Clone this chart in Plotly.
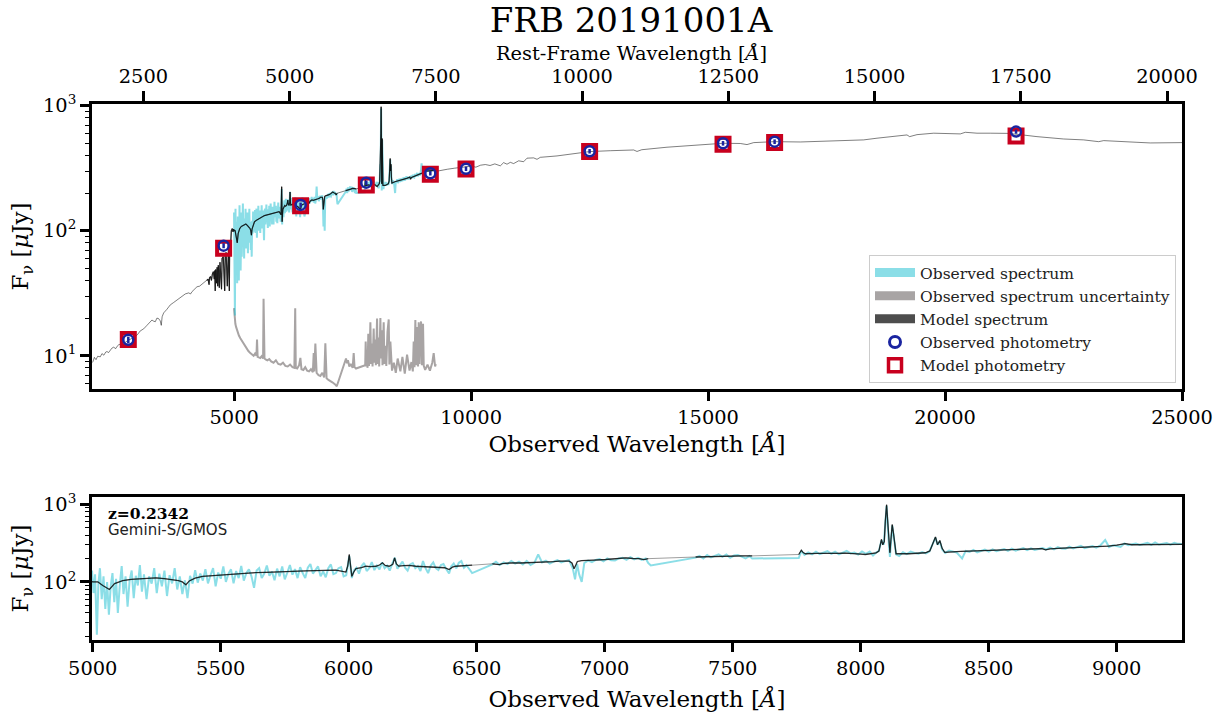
import plotly.graph_objects as go

# ---------------- data ----------------
z = 0.2342

phot_wave = [2766, 4777, 6402, 7788, 9139, 9892, 12500, 15315, 16404, 21498]
phot_obs = [13.4, 75.9, 160.6, 242, 288, 313, 432, 500, 515, 620]
phot_obs_err = [0.8, 3.5, 7, 10, 12, 13, 18, 21, 22, 24]
phot_model = [13.5, 72.2, 157.9, 232, 283, 312, 429, 491, 506, 572]

# model SED blue of the observed spectrum
sed_blue_wave = [2000, 2021, 2050, 2085, 2120, 2175, 2210, 2250, 2290, 2316,
                 2350, 2380, 2420, 2457, 2500, 2530, 2570, 2597, 2640, 2680,
                 2720, 2773, 2820, 2878, 2950, 3019, 3090, 3160, 3210, 3265,
                 3300, 3336, 3370, 3406, 3440, 3462, 3480, 3512, 3580, 3652,
                 3720, 3793, 3880, 3969, 4040, 4080, 4109, 4160, 4215, 4270,
                 4320, 4370, 4400]
sed_blue_flux = [8.8, 9.0, 9.7, 9.3, 9.9, 9.8, 10.4, 10.1, 10.7, 10.8,
                 10.6, 11.0, 11.5, 11.7, 11.4, 11.9, 12.3, 12.3, 12.1, 12.6,
                 13.0, 13.4, 13.6, 14.1, 14.6, 15.8, 16.4, 17.5, 18.4, 19.3,
                 18.9, 18.7, 20.0, 19.8, 19.0, 17.5, 20.5, 22.0, 23.5, 25.5,
                 26.6, 28.0, 29.5, 31.2, 31.8, 31.2, 32.5, 33.8, 35.6, 36.0,
                 37.5, 39.0, 40.0]

# model SED red of the observed spectrum
sed_red_wave = [9300, 9400, 9500, 9650, 9800, 9913, 10000, 10100, 10200, 10300,
                10400, 10500, 10616, 10686, 10757, 10827, 10897, 11003, 11108, 11179,
                11319, 11390, 11460, 11812, 12023, 12501, 12937, 13430, 13500, 13600,
                14133, 14977, 15315, 15680, 15821, 15962, 16398, 16947, 17650, 18001,
                18282, 18564, 18845, 19197, 19253, 19408, 19760, 20111, 20322, 20428,
                20674, 20955, 21307, 21518, 21940, 22503, 22925, 23241, 23347, 24050,
                24332, 25000]
sed_red_flux = [300, 306, 310, 316, 321, 325, 328, 322, 334, 338,
                332, 342, 330, 350, 340, 352, 344, 362, 356, 380,
                382, 372, 386, 396, 405, 429, 436, 442, 430, 444,
                465, 485, 500, 498, 488, 506, 515, 512, 520, 522,
                532, 549, 565, 583, 565, 586, 602, 602, 594, 612,
                602, 602, 600, 590, 565, 541, 532, 515, 525, 509,
                503, 506]

# model spectrum sampled where the spectrum exists (None = chip gap)
mod_wave = [4420, 4450, 4470, 4480, 4500, 4520, 4540, 4560, 4580, 4590,
            4600, 4610, 4628, 4640, 4653, 4665, 4687, 4700, 4733, 4745,
            4770, 4800, 4812, 4830, 4855, 4865, 4880, 4898, 4905, 4925,
            4940, 4960, 4975, 4990, 5000, 5020, 5039, 5065, 5085, 5117,
            5150, 5182, 5215, 5247, 5280, 5312, 5335, 5350, 5364, 5377,
            5400, 5429, 5470, 5508, 5540, 5573, 5605, 5638, 5677, 5716,
            5755, 5794, 5833, 5872, 5910, 5950, 5989, 5996, 6002, 6007,
            6012, 6020, 6028, 6050, 6067, 6085, 6106, 6120, 6132, 6142,
            6158, 6172, 6179, 6186, 6195, 6215, 6236, 6262, 6288, 6320,
            6353, 6375, 6392, 6405, 6418, 6445, 6470, 6482, None, 6561,
            6575, 6588, 6600, 6620, 6640, 6670, 6705, 6740, 6770, 6800,
            6822, 6861, 6872, 6880, 6887, 6893, 6910, 6926, 6960, 7004,
            7040, 7082, 7110, 7134, 7153, 7170, None, 7355, 7380, 7420,
            7460, 7498, 7540, 7576, None, 7758, 7763, 7768, 7775, 7784,
            7830, 7875, 7910, 7940, 7980, 8000, 8018, 8040, 8060, 8071,
            8077, 8081, 8086, 8092, 8096, 8101, 8106, 8110, 8114, 8118,
            8123, 8128, 8133, 8138, 8188, 8253, 8270, 8281, 8292, 8300,
            8309, 8318, 8328, 8390, 8448, 8510, 8578, 8640, 8708, 8722,
            8740, 8790, 8838, 8900, 8968, 9000, 9020, 9033, 9059, 9110,
            9163, 9210, 9255]
mod_flux = [40, 41, 37, 42, 43, 40, 45, 47, 41, 48,
            33, 49, 38, 51, 36, 53, 35, 56, 34, 60,
            62, 33, 65, 67, 36, 70, 72, 33, 74, 76,
            100, 104, 98, 103, 100, 100, 90, 80, 95, 104,
            108, 110, 112, 113, 110, 107, 104, 100, 92, 103,
            112, 118, 121, 124, 126, 129, 130, 132, 133, 135,
            136, 137, 139, 140, 141, 142, 134, 160, 225, 170,
            118, 135, 148, 153, 159, 157, 159, 165, 176, 163,
            159, 168, 204, 170, 160, 162, 163, 159, 157, 158,
            155, 152, 144, 155, 159, 162, 163, 164, None, 171,
            169, 167, 172, 174, 176, 175, 176, 178, 180, 182,
            185, 185, 175, 148, 165, 183, 188, 190, 191, 194,
            198, 204, 200, 199, 193, 199, None, 209, 210, 214,
            215, 218, 216, 216, None, 225, 240, 255, 238, 230,
            232, 230, 233, 234, 232, 228, 225, 232, 236, 249,
            300, 352, 300, 330, 600, 980, 560, 304, 237, 350,
            545, 420, 280, 230, 230, 237, 250, 304, 378, 300,
            340, 270, 240, 246, 249, 252, 256, 262, 268, 258,
            266, 272, 275, 282, 289, 296, 306, 310, 300, 302,
            304, 303, 304]

# observed Gemini-S/GMOS spectrum
obs_wave = [4997, 5003, 5009, 5016, 5022, 5028, 5035, 5042, 5049, 5056,
            5063, 5070, 5077, 5084, 5091, 5098, 5106, 5113, 5120, 5128,
            5136, 5144, 5152, 5160, 5168, 5176, 5184, 5192, 5200, 5210,
            5220, 5230, 5240, 5250, 5260, 5270, 5280, 5290, 5300, 5310,
            5320, 5330, 5340, 5350, 5360, 5370, 5380, 5390, 5400, 5410,
            5420, 5430, 5440, 5450, 5460, 5470, 5480, 5490, 5500, 5510,
            5520, 5530, 5540, 5550, 5560, 5570, 5580, 5590, 5600, 5610,
            5620, 5630, 5640, 5650, 5660, 5670, 5680, 5690, 5700, 5710,
            5720, 5730, 5740, 5750, 5760, 5770, 5780, 5790, 5800, 5810,
            5820, 5830, 5840, 5850, 5860, 5870, 5880, 5890, 5900, 5910,
            5920, 5930, 5940, 5950, 5960, 5970, 5980, 5990, 6002, 6012,
            6020, 6030, 6040, 6050, 6060, 6070, 6080, 6090, 6100, 6110,
            6120, 6130, 6140, 6150, 6160, 6170, 6180, 6190, 6200, 6210,
            6220, 6230, 6240, 6250, 6260, 6270, 6280, 6290, 6300, 6310,
            6320, 6330, 6340, 6350, 6360, 6370, 6380, 6392, 6400, 6410,
            6420, 6430, 6440, 6450, 6460, 6470, 6482, 6561, 6575, 6590,
            6605, 6620, 6635, 6650, 6665, 6680, 6695, 6710, 6725, 6740,
            6755, 6770, 6785, 6800, 6815, 6830, 6845, 6860, 6875, 6884,
            6892, 6900, 6910, 6920, 6935, 6950, 6965, 6980, 6995, 7010,
            7025, 7040, 7055, 7070, 7085, 7100, 7115, 7130, 7145, 7160,
            7170, 7180, 7355, 7370, 7385, 7400, 7415, 7430, 7445, 7460,
            7475, 7490, 7505, 7520, 7535, 7550, 7565, 7576, 7758, 7768,
            7780, 7795, 7810, 7825, 7840, 7855, 7870, 7885, 7900, 7915,
            7930, 7945, 7960, 7975, 7990, 8005, 8020, 8035, 8048, 8060,
            8071, 8081, 8090, 8101, 8110, 8114, 8123, 8130, 8138, 8150,
            8165, 8180, 8195, 8210, 8225, 8240, 8255, 8268, 8281, 8292,
            8300, 8309, 8318, 8330, 8345, 8360, 8375, 8396, 8410, 8425,
            8440, 8455, 8470, 8485, 8500, 8515, 8530, 8545, 8560, 8575,
            8590, 8605, 8620, 8635, 8650, 8665, 8680, 8695, 8710, 8725,
            8740, 8755, 8770, 8785, 8800, 8815, 8830, 8845, 8860, 8875,
            8890, 8905, 8920, 8935, 8955, 8970, 8985, 9000, 9015, 9030,
            9045, 9060, 9075, 9090, 9105, 9120, 9135, 9150, 9165, 9180,
            9195, 9210, 9225, 9240, 9255]
obs_flux = [140, 72, 125, 21, 95, 150, 60, 118, 45, 100,
            38, 88, 130, 55, 110, 40, 95, 160, 70, 118,
            48, 105, 140, 62, 120, 90, 165, 75, 125, 60,
            118, 95, 150, 72, 128, 88, 140, 66, 122, 96,
            150, 80, 118, 70, 105, 62, 120, 95, 142, 98,
            128, 104, 146, 96, 122, 150, 88, 132, 110, 158,
            100, 128, 145, 96, 138, 112, 160, 104, 130, 145,
            118, 84, 140, 150, 112, 128, 162, 120, 136, 105,
            148, 118, 158, 108, 132, 165, 124, 146, 112, 155,
            130, 112, 152, 170, 128, 140, 158, 118, 136, 115,
            150, 168, 126, 130, 150, 155, 118, 122, 215, 112,
            140, 152, 128, 160, 175, 138, 150, 180, 142, 162,
            145, 178, 150, 162, 140, 172, 205, 148, 166, 182,
            152, 140, 168, 175, 150, 160, 138, 185, 150, 130,
            162, 178, 150, 142, 165, 170, 148, 128, 158, 172,
            150, 176, 185, 152, 164, 148, 130, 168, 182, 165,
            178, 170, 186, 172, 182, 168, 186, 165, 176, 225,
            178, 188, 172, 182, 190, 178, 185, 192, 150, 108,
            170, 125, 100, 175, 188, 180, 192, 196, 184, 200,
            190, 188, 200, 204, 192, 208, 195, 204, 192, 200,
            175, 163, 205, 216, 200, 222, 206, 214, 226, 210,
            225, 204, 218, 222, 212, 200, 215, 200, 203, 250,
            222, 240, 226, 245, 228, 236, 248, 230, 244, 226,
            240, 250, 232, 238, 225, 246, 230, 245, 218, 238,
            250, 340, 300, 950, 300, 210, 530, 380, 226, 215,
            240, 228, 245, 236, 230, 242, 232, 245, 300, 370,
            300, 330, 260, 236, 252, 244, 238, 200, 250, 242,
            258, 240, 250, 260, 245, 262, 248, 255, 265, 250,
            268, 252, 262, 272, 256, 270, 258, 264, 272, 262,
            276, 262, 280, 268, 266, 284, 270, 280, 290, 272,
            282, 288, 276, 292, 345, 280, 296, 288, 282, 312,
            296, 305, 312, 298, 310, 318, 300, 322, 302, 312,
            316, 300, 318, 308, 306]

# observed spectrum uncertainty
unc_wave = [4997, 5005, 5015, 5025, 5040, 5060, 5080, 5100, 5130, 5160,
            5200, 5240, 5270, 5300, 5340, 5380, 5410, 5440, 5470, 5482,
            5495, 5520, 5550, 5580, 5610, 5620, 5625, 5640, 5670, 5700,
            5740, 5780, 5830, 5880, 5930, 5980, 6030, 6080, 6130, 6180,
            6230, 6270, 6288, 6292, 6300, 6330, 6370, 6397, 6420, 6460,
            6500, 6540, 6580, 6620, 6660, 6678, 6690, 6713, 6740, 6780,
            6819, 6860, 6900, 6924, 6950, 6990, 7030, 7080, 7130, 7165,
            7360, 7381, 7400, 7430, 7460, 7500, 7522, 7540, 7570, 7765,
            7775, 7790, 7800, 7815, 7830, 7845, 7860, 7874, 7890, 7905,
            7920, 7944, 7960, 7975, 7990, 8015, 8030, 8045, 8060, 8085,
            8100, 8115, 8130, 8155, 8170, 8190, 8210, 8235, 8261, 8275,
            8296, 8330, 8370, 8410, 8450, 8507, 8550, 8600, 8648, 8700,
            8740, 8770, 8788, 8805, 8823, 8840, 8860, 8880, 8894, 8910,
            8925, 8943, 8960, 8975, 8985, 9000, 9030, 9080, 9130, 9180,
            9210, 9240, 9255]
unc_flux = [24, 21, 19, 18, 17, 16, 15.2, 14.5, 13.8, 13.2,
            12.6, 11.8, 11.2, 10.9, 10.5, 10.2, 10.0, 10.4, 10.0, 13.5,
            9.8, 9.7, 9.6, 9.9, 9.5, 28.5, 12, 9.5, 9.3, 9.2,
            9.4, 9.0, 8.8, 9.2, 8.6, 8.5, 8.8, 8.3, 8.2, 8.5,
            8.1, 8.0, 24, 9, 8.0, 7.9, 8.4, 9.6, 7.8, 7.7,
            8.1, 7.6, 7.5, 7.8, 7.4, 10.5, 7.5, 12.5, 7.3, 7.0,
            6.9, 7.3, 6.7, 12.6, 6.6, 6.4, 6.3, 6.1, 5.9, 5.7,
            9.5, 8.7, 9.2, 8.2, 8.6, 8.0, 10.5, 8.1, 7.9, 8.4,
            13, 8.2, 10.5, 8.0, 15, 8.3, 11, 18.5, 8.6, 12.5,
            8.2, 16.5, 8.8, 13.5, 8.4, 19.8, 8.6, 14, 8.2, 20,
            9.5, 16, 8.4, 18.5, 8.6, 12, 8.3, 15.5, 19.5, 8.5,
            13, 7.6, 8.8, 7.3, 9.5, 7.5, 9.8, 7.2, 10.2, 7.6,
            8.9, 7.5, 13, 8.1, 19.3, 8.4, 17, 8.2, 18.5, 8.6,
            15, 18.8, 8.4, 14.5, 18, 8.3, 7.7, 8.5, 7.6, 8.8,
            10.5, 8.2, 8.6]

y_tick_vals = [10, 100, 1000]
y_tick_text = ["10<sup>1</sup>", "10<sup>2</sup>", "10<sup>3</sup>"]

# ---------------- styling ----------------
SERIF = "DejaVu Serif"
CYAN = "rgba(23,190,207,0.5)"
UNC = "#a8a4a4"
SEDC = "rgba(0,0,0,0.5)"
MODC = "rgba(0,0,0,0.72)"
NAVY = "#1a24a0"
RED = "#c8001e"

# full model line: blue SED + model at spectral pixels + red SED
gray_wave = sed_blue_wave + [w for w, f in zip(mod_wave, mod_flux) if f is not None] + sed_red_wave
gray_flux = sed_blue_flux + [f for f in mod_flux if f is not None] + sed_red_flux

fig = go.Figure()

# legend entries (in reference order)
fig.add_trace(go.Scatter(x=[None], y=[None], mode="lines", name="Observed spectrum",
                         line=dict(color="#8bdee7", width=9)))
fig.add_trace(go.Scatter(x=[None], y=[None], mode="lines", name="Observed spectrum uncertainty",
                         line=dict(color=UNC, width=9)))
fig.add_trace(go.Scatter(x=[None], y=[None], mode="lines", name="Model spectrum",
                         line=dict(color="#4d4d4d", width=9)))
fig.add_trace(go.Scatter(x=[None], y=[None], mode="markers", name="Observed photometry",
                         marker=dict(symbol="circle-open", size=11, color=NAVY,
                                     line=dict(width=3, color=NAVY))))
fig.add_trace(go.Scatter(x=[None], y=[None], mode="markers", name="Model photometry",
                         marker=dict(symbol="square-open", size=13, color=RED,
                                     line=dict(width=3.5, color=RED))))

# top panel
fig.add_trace(go.Scatter(x=unc_wave, y=unc_flux, mode="lines", showlegend=False,
                         line=dict(color=UNC, width=2), hoverinfo="skip"))
fig.add_trace(go.Scatter(x=obs_wave, y=obs_flux, mode="lines", showlegend=False,
                         line=dict(color=CYAN, width=2), hoverinfo="skip"))
fig.add_trace(go.Scatter(x=gray_wave, y=gray_flux, mode="lines", showlegend=False,
                         line=dict(color=SEDC, width=1), hoverinfo="skip"))
fig.add_trace(go.Scatter(x=mod_wave, y=mod_flux, mode="lines", showlegend=False,
                         connectgaps=False, line=dict(color=MODC, width=1.2), hoverinfo="skip"))
fig.add_trace(go.Scatter(x=phot_wave, y=phot_model, mode="markers", showlegend=False,
                         marker=dict(symbol="square-open", size=13, color=RED,
                                     line=dict(width=4, color=RED))))
fig.add_trace(go.Scatter(x=phot_wave, y=phot_obs, mode="markers", showlegend=False,
                         error_y=dict(type="data", array=phot_obs_err, color=NAVY,
                                      thickness=2.5, width=0),
                         marker=dict(symbol="circle-open", size=10, color=NAVY,
                                     line=dict(width=2.5, color=NAVY))))
# invisible trace carrying the rest-frame axis
fig.add_trace(go.Scatter(x=[w / (1 + z) for w in phot_wave], y=phot_obs, xaxis="x2", yaxis="y",
                         mode="markers", marker=dict(opacity=0), showlegend=False,
                         hoverinfo="skip"))

# bottom panel
fig.add_trace(go.Scatter(x=obs_wave, y=obs_flux, xaxis="x3", yaxis="y3", mode="lines",
                         showlegend=False, line=dict(color=CYAN, width=2), hoverinfo="skip"))
fig.add_trace(go.Scatter(x=gray_wave, y=gray_flux, xaxis="x3", yaxis="y3", mode="lines",
                         showlegend=False, line=dict(color="rgba(0,0,0,0.38)", width=1),
                         hoverinfo="skip"))
fig.add_trace(go.Scatter(x=mod_wave, y=mod_flux, xaxis="x3", yaxis="y3", mode="lines",
                         connectgaps=False, showlegend=False,
                         line=dict(color=MODC, width=1.3), hoverinfo="skip"))

common = dict(showgrid=False, zeroline=False, showline=True, linewidth=2.5, linecolor="black",
              ticks="outside", tickwidth=2.5, tickcolor="black", automargin=False)
minor_top = [m * 10 ** e for e in (0, 1, 2) for m in range(2, 10)]
minor_bot = [m * 10 ** e for e in (1, 2) for m in range(2, 10)]

fig.update_layout(
    width=1220, height=713,
    margin=dict(l=92, r=38, t=104, b=73, autoexpand=False),
    paper_bgcolor="white", plot_bgcolor="white",
    font=dict(family=SERIF, size=19.4, color="black"),
    title=dict(text="FRB 20191001A", x=631 / 1220, xref="container", xanchor="center",
               y=1 - 20 / 713, yref="container", yanchor="middle",
               font=dict(family=SERIF, size=34, color="black")),
    legend=dict(x=0.9945, xanchor="right", y=0.4795, yanchor="bottom", itemwidth=40,
                bgcolor="white", bordercolor="#cccccc", borderwidth=1,
                font=dict(family=SERIF, size=15.5, color="#222222")),
    xaxis=dict(domain=[0, 1], anchor="y", range=[2000, 25000], tickmode="linear",
               tick0=0, dtick=5000, ticklen=9, mirror=True, tickformat="d",
               title=dict(text="Observed Wavelength [<i>Å</i>]", standoff=8), **common),
    xaxis2=dict(overlaying="x", side="top", anchor="y",
                range=[2000 / (1 + z), 25000 / (1 + z)], tickmode="linear", tick0=0,
                dtick=2500, ticklen=10, tickformat="d", **common),
    yaxis=dict(domain=[0.4683, 1], anchor="x", type="log", range=[0.734, 3.013],
               tickmode="array", tickvals=y_tick_vals, ticktext=y_tick_text, ticklen=9,
               mirror=True,
               minor=dict(tickmode="array", tickvals=minor_top, ticks="outside", ticklen=4,
                          tickwidth=1, tickcolor="black"),
               title=dict(text="F<sub>ν</sub> [<i>μ</i>Jy]", standoff=8), **common),
    xaxis3=dict(domain=[0, 1], anchor="y3", range=[4997, 9255], tickmode="linear",
                tick0=5000, dtick=500, ticklen=9, mirror=True, tickformat="d",
                title=dict(text="Observed Wavelength [<i>Å</i>]", standoff=12), **common),
    yaxis3=dict(domain=[0, 0.2668], anchor="x3", type="log", range=[1.255, 3.09],
                tickmode="array", tickvals=y_tick_vals, ticktext=y_tick_text, ticklen=9,
                mirror=True,
                minor=dict(tickmode="array", tickvals=minor_bot, ticks="outside", ticklen=4,
                           tickwidth=1, tickcolor="black"),
                title=dict(text="F<sub>ν</sub> [<i>μ</i>Jy]", standoff=8), **common),
    annotations=[
        dict(text="Rest-Frame Wavelength [<i>Å</i>]", xref="paper", yref="paper",
             x=(631 - 92) / 1090, y=(640 - 53) / 536, xanchor="center", yanchor="middle",
             showarrow=False, font=dict(family=SERIF, size=19.4, color="black")),
        dict(text="<b>z=0.2342</b>", xref="x3 domain", yref="y3 domain", x=0.0128, y=0.885,
             xanchor="left", yanchor="middle", showarrow=False,
             font=dict(family=SERIF, size=15.5, color="black")),
        dict(text="Gemini-S/GMOS", xref="x3 domain", yref="y3 domain", x=0.0128, y=0.772,
             xanchor="left", yanchor="middle", showarrow=False,
             font=dict(family="DejaVu Sans", size=15, color="#222222")),
    ],
)

fig.write_html("out.html", config={"displayModeBar": False},
               post_script="document.body.style.margin='0px';")
